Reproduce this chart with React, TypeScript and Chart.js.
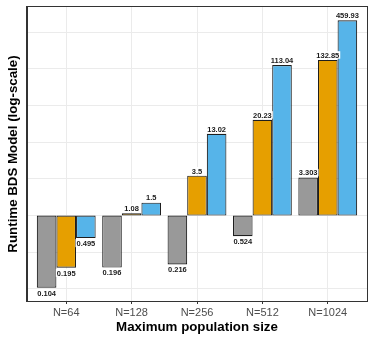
import React, { useEffect, useRef } from 'react';
import { Chart, registerables } from 'chart.js';
Chart.register(...registerables);

const categories = ['N=64', 'N=128', 'N=256', 'N=512', 'N=1024'];
const grayValues = [0.104, 0.196, 0.216, 0.524, 3.303];
const orangeValues = [0.195, 1.08, 3.5, 20.23, 132.85];
const blueValues = [0.495, 1.5, 13.02, 113.04, 459.93];
const gridValues = [0.1, 0.3162, 1, 3.162, 10, 31.62, 100, 316.2];
const seriesColors = ['#999999', '#E69F00', '#56B4E9'];
const xTitle = 'Maximum population size';
const yTitle = 'Runtime BDS Model (log-scale)';

const FONT = '"Liberation Sans", Arial, Helvetica, sans-serif';

export default function App() {
  const ref = useRef<HTMLCanvasElement | null>(null);
  useEffect(() => {
    if (!ref.current) return;
    const seriesValues = [grayValues, orangeValues, blueValues];
    const decorPlugin = {
      id: 'decor',
      afterDatasetsDraw(chart: any) {
        const ctx = chart.ctx;
        const ys = chart.scales.y;
        ctx.save();
        ctx.font = `bold 7.5px ${FONT}`;
        ctx.textAlign = 'center';
        chart.data.datasets.forEach((ds: any, di: number) => {
          const meta = chart.getDatasetMeta(di);
          meta.data.forEach((el: any, i: number) => {
            const v = seriesValues[di][i];
            const text = String(v);
            const w = ctx.measureText(text).width;
            const py = ys.getPixelForValue(v);
            const baseY = v >= 1 ? py - 2.2 : py + 8;
            ctx.fillStyle = '#ffffff';
            if (v >= 1) ctx.fillRect(el.x - w / 2 - 1, baseY - 6.5, w + 2, 7.5);
            else ctx.fillRect(el.x - w / 2 - 1, py + 1.2, w + 2, 8);
            ctx.fillStyle = '#1a1a1a';
            ctx.textBaseline = 'alphabetic';
            ctx.fillText(text, el.x, baseY);
          });
        });
        ctx.restore();
      },
      afterDraw(chart: any) {
        const ctx = chart.ctx;
        const a = chart.chartArea;
        ctx.save();
        ctx.strokeStyle = '#333333';
        ctx.lineWidth = 1;
        ctx.strokeRect(Math.round(a.left) - 0.5, Math.round(a.top) - 0.5, Math.round(a.right - a.left) + 1, Math.round(a.bottom - a.top) + 1);
        ctx.fillStyle = '#000000';
        ctx.font = `bold 13.3px ${FONT}`;
        ctx.textAlign = 'center';
        ctx.textBaseline = 'middle';
        ctx.fillText(xTitle, (a.left + a.right) / 2, 327);
        ctx.translate(13, (a.top + a.bottom) / 2);
        ctx.rotate(-Math.PI / 2);
        ctx.fillText(yTitle, 0, 0);
        ctx.restore();
      },
    };
    const chart = new Chart(ref.current, {
      type: 'bar',
      data: {
        datasets: seriesValues.map((vals, di) => ({
          label: 's' + di,
          data: categories.map((_, i) => ({ x: i, y: [1, vals[i]] })),
          backgroundColor: seriesColors[di],
          borderColor: '#1e1e1e',
          borderWidth: 1.1,
          borderSkipped: false,
          categoryPercentage: 0.9,
          barPercentage: 1,
        })) as any,
      },
      options: {
        animation: false,
        responsive: false,
        maintainAspectRatio: false,
        layout: { padding: { left: 0, right: 7, top: 7, bottom: 0 } },
        plugins: { legend: { display: false }, tooltip: { enabled: false } },
        scales: {
          x: {
            type: 'linear',
            min: -0.6,
            max: 4.6,
            offset: false,
            afterBuildTicks: (scale: any) => {
              scale.ticks = categories.map((_, i) => ({ value: i }));
            },
            afterFit: (scale: any) => {
              scale.height = 42;
            },
            ticks: {
              callback: (v: any) => categories[v as number],
              color: '#4D4D4D',
              font: { family: FONT, size: 11 },
              padding: 2,
              maxRotation: 0,
              autoSkip: false,
            },
            grid: {
              offset: false,
              color: '#EBEBEB',
              lineWidth: 1,
              drawTicks: true,
              tickLength: 3,
              tickColor: '#333333',
            },
            border: { display: true, color: '#333333', width: 1 },
          },
          y: {
            type: 'logarithmic',
            min: 0.0684,
            max: 700,
            afterBuildTicks: (scale: any) => {
              scale.ticks = gridValues.map((v) => ({ value: v }));
            },
            afterFit: (scale: any) => {
              scale.width = 27;
            },
            ticks: { display: false },
            grid: { color: '#EBEBEB', lineWidth: 1, drawTicks: false },
            border: { display: true, color: '#333333', width: 1 },
          },
        },
      } as any,
      plugins: [decorPlugin],
    });
    return () => chart.destroy();
  }, []);
  return (
    <div style={{ position: 'absolute', left: 0, top: 0, width: 374, height: 343, background: '#fff' }}>
      <canvas ref={ref} width={374} height={343} style={{ display: 'block' }} />
    </div>
  );
}
